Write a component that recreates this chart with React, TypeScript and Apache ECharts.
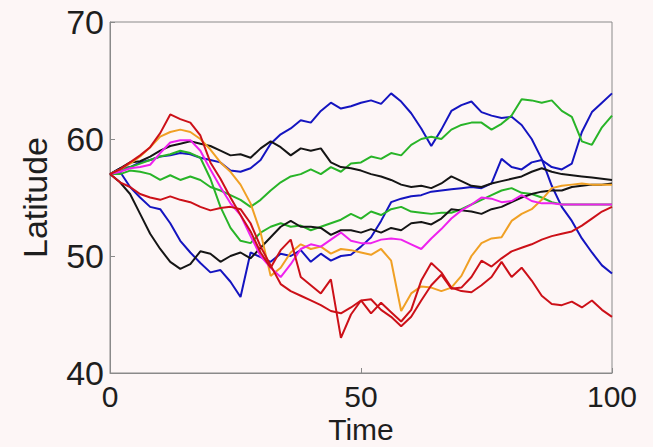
import React, { useEffect, useRef } from "react";
import * as echarts from "echarts";

const TIME = [0, 2, 4, 6, 8, 10, 12, 14, 16, 18, 20, 22, 24, 26, 28, 30, 32, 34, 36, 38, 40, 42, 44, 46, 48, 50, 52, 54, 56, 58, 60, 62, 64, 66, 68, 70, 72, 74, 76, 78, 80, 82, 84, 86, 88, 90, 92, 94, 96, 98, 100];

const BLUE_A = [57.0,57.5,57.6,58.0,58.2,58.5,58.6,58.8,58.7,58.4,58.2,58.0,57.3,57.2,57.5,58.2,59.6,60.4,60.9,61.6,61.4,62.4,63.1,62.6,62.8,63.1,63.3,63.0,63.9,63.2,62.2,60.9,59.4,60.8,62.4,62.9,63.2,62.3,62.0,61.8,61.9,61.2,60.0,58.3,56.0,54.2,53.0,51.5,50.3,49.2,48.5];
const BLUE_B = [57.0,57.2,55.9,55.0,54.2,54.0,52.8,51.3,50.3,49.4,48.6,48.8,47.8,46.5,50.3,49.9,49.5,50.2,50.0,50.5,49.5,50.2,49.6,50.0,50.1,50.8,51.6,53.0,54.6,54.9,55.1,55.2,55.5,55.6,55.7,55.8,55.9,55.8,56.2,58.3,57.6,57.4,58.0,58.2,57.6,57.4,57.9,60.6,62.3,63.1,63.9];
const BLACK_A = [57.0,57.5,58.0,58.1,58.5,59.0,59.4,59.6,59.8,59.6,59.4,59.0,58.6,58.7,58.4,59.2,59.8,59.3,58.6,59.2,59.0,59.2,58.0,57.6,57.5,57.3,57.0,56.8,56.5,56.1,55.9,56.0,55.8,56.2,56.8,56.4,56.0,55.9,56.2,56.4,56.6,56.8,57.2,57.5,57.2,57.0,56.9,56.8,56.7,56.6,56.5];
const BLACK_B = [57.0,56.3,55.3,53.6,51.9,50.6,49.5,48.9,49.3,50.4,50.2,49.5,50.0,50.3,49.8,50.7,51.6,52.5,53.0,52.5,52.5,52.4,51.8,52.2,52.2,52.0,52.3,52.0,52.4,52.2,52.8,52.9,52.7,53.2,54.0,53.9,53.8,53.6,54.0,54.2,54.6,55.0,55.3,55.5,55.6,55.6,55.9,56.0,56.1,56.1,56.2];
const GREEN_A = [57.0,57.3,57.6,57.9,58.2,58.5,58.7,59.0,58.8,58.4,56.6,54.2,52.4,51.3,51.1,52.0,52.5,52.8,52.5,52.6,52.2,52.5,52.8,53.1,53.6,53.2,53.8,53.5,54.0,54.2,53.8,53.7,53.6,53.7,53.7,54.0,54.4,54.8,55.2,55.6,55.8,55.4,55.3,55.0,54.6,54.4,54.4,54.4,54.4,54.4,54.4];
const GREEN_B = [57.0,57.0,57.3,57.2,57.0,56.5,56.9,56.5,56.8,56.5,55.9,55.6,55.2,54.8,54.2,54.8,55.6,56.3,56.8,57.0,57.4,57.0,57.6,57.2,57.9,58.0,58.5,58.3,58.8,58.6,59.5,60.0,60.2,60.0,60.8,61.2,61.4,61.4,60.8,61.3,62.0,63.4,63.3,63.1,63.3,62.4,61.9,59.8,59.5,61.0,62.0];
const RED_A = [57.0,57.4,58.0,58.6,59.3,60.5,62.1,61.7,61.4,60.3,58.0,56.6,55.0,53.5,52.1,50.3,49.0,50.5,51.4,48.2,47.5,46.8,48.0,43.0,45.0,46.2,45.1,46.0,45.2,44.4,45.4,47.9,49.4,48.6,47.3,47.0,46.9,47.5,48.2,49.5,48.2,49.0,47.9,46.6,45.9,45.8,46.1,45.6,46.2,45.4,44.8];
const RED_B = [57.0,56.3,55.9,55.3,55.0,54.8,55.1,54.8,54.6,54.2,53.9,54.1,54.2,54.0,52.8,50.8,49.2,47.6,47.0,46.6,46.2,45.8,45.3,45.1,45.6,46.2,46.3,45.4,44.8,44.0,44.8,46.2,47.5,48.4,47.2,47.3,48.2,49.6,49.1,49.8,50.4,50.7,51.0,51.4,51.7,51.9,52.1,52.6,53.2,53.8,54.2];
const ORANGE = [57.0,57.4,57.9,58.5,59.3,60.2,60.6,60.8,60.6,60.0,59.1,58.0,57.2,56.1,54.5,52.0,48.3,49.0,50.3,51.0,50.6,50.8,50.2,50.6,50.5,50.3,50.1,50.6,49.6,45.3,46.8,47.4,47.3,47.0,47.3,48.3,50.0,51.1,51.5,51.6,53.0,53.6,54.0,54.8,55.8,56.0,56.1,56.2,56.1,56.1,56.1];
const MAGENTA = [57.0,57.2,57.5,57.6,57.8,58.8,59.7,59.9,59.9,59.0,57.4,55.9,54.5,53.5,51.7,50.0,49.0,48.2,49.3,50.6,51.0,50.8,51.4,52.0,51.3,51.1,51.1,51.4,51.5,51.4,51.0,50.6,51.5,52.3,53.2,53.9,54.4,55.0,54.9,54.6,54.7,55.2,54.7,54.5,54.5,54.4,54.4,54.4,54.4,54.4,54.4];

const X_TICKS = [0, 50, 100];
const Y_TICKS = [40, 50, 60, 70];

const TRACKS: { name: string; values: number[]; color: string }[] = [
  { name: "blue A", values: BLUE_A, color: "#1414c0" },
  { name: "blue B", values: BLUE_B, color: "#1414c0" },
  { name: "green A", values: GREEN_A, color: "#28b428" },
  { name: "green B", values: GREEN_B, color: "#28b428" },
  { name: "black A", values: BLACK_A, color: "#151515" },
  { name: "black B", values: BLACK_B, color: "#151515" },
  { name: "orange", values: ORANGE, color: "#f0a024" },
  { name: "magenta", values: MAGENTA, color: "#ee22ee" },
  { name: "red A", values: RED_A, color: "#cc1018" },
  { name: "red B", values: RED_B, color: "#cc1018" },
];

const FONT = "'Liberation Sans', Arial, Helvetica, sans-serif";

export default function App() {
  const ref = useRef<HTMLDivElement>(null);
  useEffect(() => {
    document.body.style.margin = "0";
    const chart = echarts.init(ref.current!, null, { renderer: "svg" });
    chart.setOption({
      animation: false,
      backgroundColor: "#fdf6f6",
      grid: {
        left: 110,
        right: 41,
        top: 22,
        bottom: 74,
        outerBoundsMode: "none",
        containLabel: false,
        show: true,
        borderColor: "#8a8a8a",
        borderWidth: 1,
        backgroundColor: "transparent",
      },
      xAxis: {
        type: "value",
        min: X_TICKS[0],
        max: X_TICKS[X_TICKS.length - 1],
        interval: 50,
        name: "Time",
        nameLocation: "middle",
        nameGap: 42,
        nameMoveOverlap: false,
        nameTextStyle: { fontSize: 30, lineHeight: 28, color: "#1e1e1e", fontFamily: FONT, verticalAlign: "top" },
        axisLine: { show: true, lineStyle: { color: "#8a8a8a", width: 1 } },
        axisTick: { show: true, inside: true, length: 5, lineStyle: { color: "#8a8a8a" } },
        axisLabel: { fontSize: 30, lineHeight: 26, color: "#1e1e1e", fontFamily: FONT, margin: 10 },
        splitLine: { show: false },
      },
      yAxis: {
        type: "value",
        min: Y_TICKS[0],
        max: Y_TICKS[Y_TICKS.length - 1],
        interval: 10,
        name: "Latitude",
        nameLocation: "middle",
        nameRotate: 90,
        nameGap: 58,
        nameMoveOverlap: false,
        nameTextStyle: { fontSize: 34, color: "#1e1e1e", fontFamily: FONT },
        axisLine: { show: true, lineStyle: { color: "#8a8a8a", width: 1 } },
        axisTick: { show: true, inside: true, length: 5, lineStyle: { color: "#8a8a8a" } },
        axisLabel: { fontSize: 34, color: "#1e1e1e", fontFamily: FONT, margin: 6 },
        splitLine: { show: false },
      },
      series: TRACKS.map((t) => ({
        name: t.name,
        type: "line",
        data: TIME.map((x, i) => [x, t.values[i]]),
        showSymbol: false,
        symbol: "none",
        lineStyle: { color: t.color, width: 2 },
        itemStyle: { color: t.color },
      })),
    });
    return () => chart.dispose();
  }, []);
  return <div ref={ref} style={{ width: 653, height: 447 }} />;
}
